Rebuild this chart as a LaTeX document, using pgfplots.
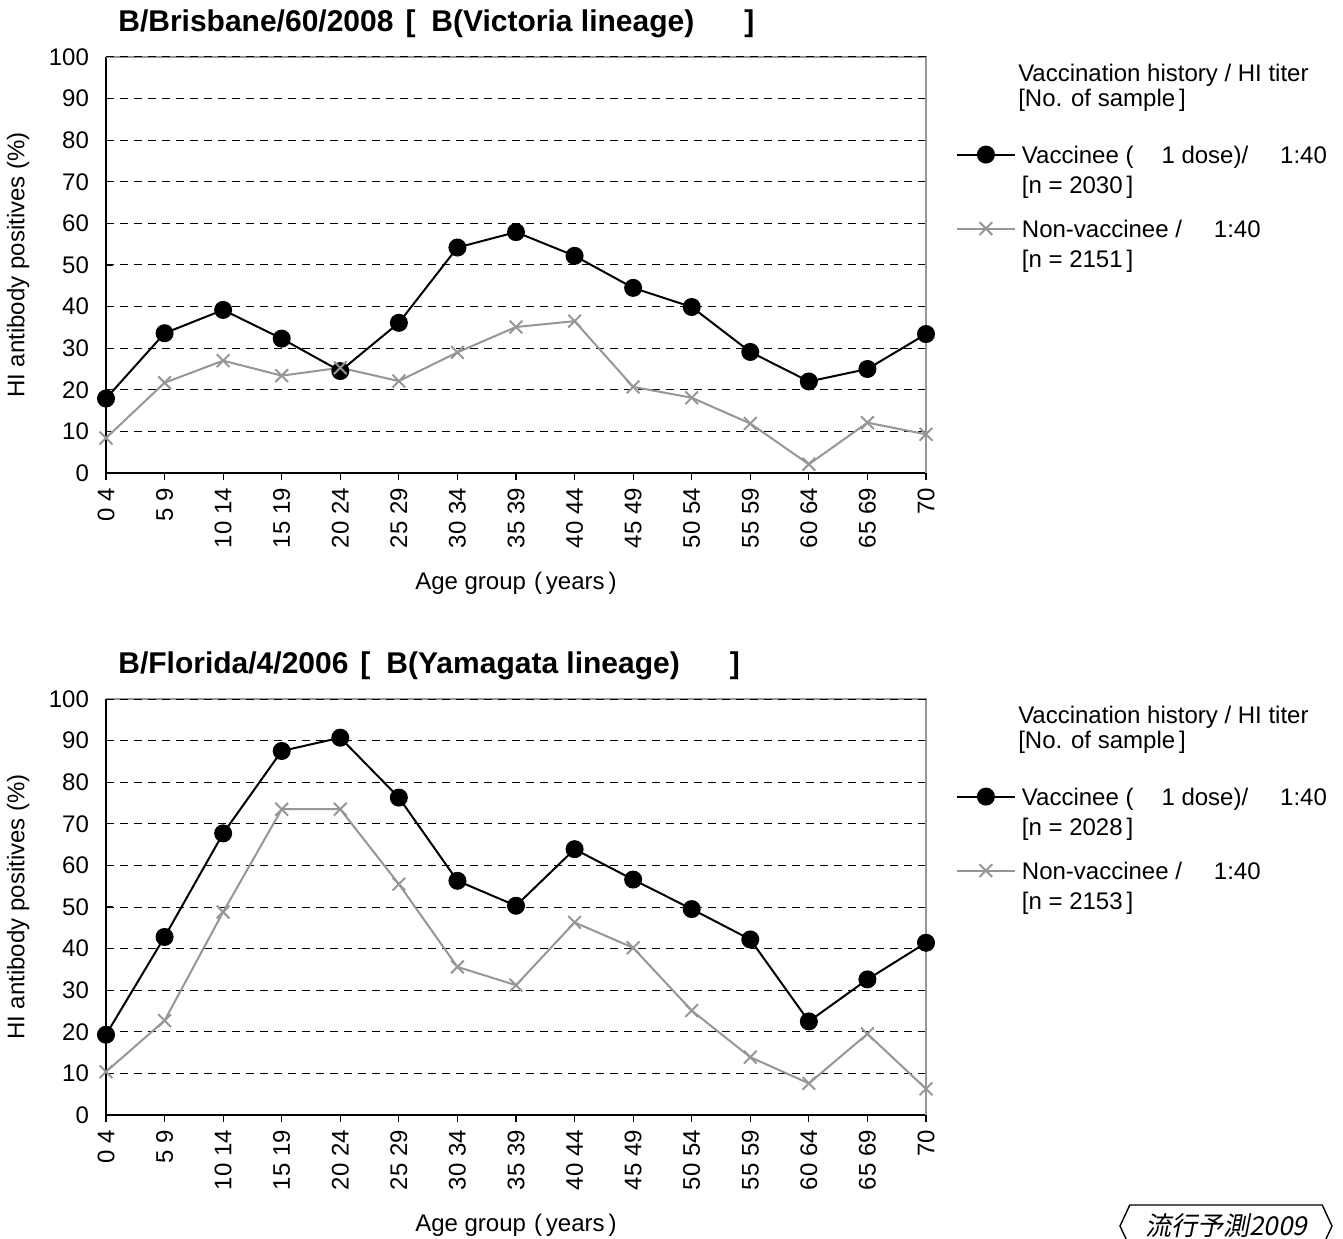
\documentclass[border=0pt]{standalone}
\usepackage{fontspec}
\setmainfont{Liberation Sans}
\newfontfamily\cjkit[FakeSlant=0.2]{Noto Sans CJK JP}
\usepackage{pgfplots}
\pgfplotsset{compat=1.18}
\usetikzlibrary{shapes.symbols}

\definecolor{nvgray}{RGB}{150,150,150}

\tikzset{
  header/.style={anchor=west, inner sep=0pt, font=\fontsize{12}{14}\selectfont},
  rowA/.style={text height=11.5pt, text depth=2.9pt},
  rowB/.style={text height=12.1pt, text depth=10.5pt},
  rowC/.style={text height=12.1pt, text depth=2.9pt},
  frame/.style={nvgray, line width=0.8pt},
}

\pgfplotsset{
  agechart/.style={
    width=410pt, height=208pt, scale only axis, clip=false,
    xmin=0, xmax=14, ymin=0, ymax=100,
    xtick={0,...,14},
    xticklabels={0 4,5 9,10 14,15 19,20 24,25 29,30 34,35 39,40 44,45 49,50 54,55 59,60 64,65 69,70},
    ytick={0,10,...,100},
    axis x line*=bottom, axis y line*=left,
    axis line style={-, black, line width=0.8pt},
    xtick align=outside, ytick align=inside, major tick length=3.5pt,
    tick style={black, line width=0.6pt},
    ymajorgrids,
    major grid style={black, line width=0.5pt, dash pattern=on 4pt off 3pt},
    /pgf/number format/assume math mode=true,
    tick label style={font=\fontsize{12}{14}\selectfont},
    x tick label style={rotate=90, anchor=east},
    xticklabel shift=0.5pt,
    y tick label style={xshift=-5pt},
    ylabel={HI antibody positives (\%)},
    xlabel={Age group\hspace{4pt}(\hspace{2pt}years\hspace{2pt})},
    every axis y label/.style={at={(axis description cs:-0.107,0.5)}, rotate=90, anchor=center,
      font=\fontsize{12}{14}\selectfont},
    every axis x label/.style={at={(axis description cs:0.5,-0.264)}, anchor=center,
      font=\fontsize{12}{14}\selectfont},
    every axis title shift=0pt,
    title style={at={(axis description cs:0.0146,1.079)}, anchor=west, inner sep=0pt,
      font=\bfseries\fontsize{15}{18}\selectfont},
    legend style={at={(axis description cs:1.036,0.801)}, anchor=north west,
      draw=none, fill=none, inner sep=0pt, row sep=0pt,
      font=\fontsize{12}{14}\selectfont,
      nodes={inner ysep=0pt, inner xsep=3pt}},
    legend cell align=left,
    legend image code/.code={\draw[##1, mark repeat=2, mark phase=2] plot coordinates {(0pt,0pt) (14.5pt,0pt) (29pt,0pt)};},
  },
  vacc/.style={black, line width=1pt, mark=*, mark size=4pt, mark options={solid, fill=black}},
  nonvacc/.style={nvgray, line width=1pt, mark=x, mark size=4.5pt, mark options={solid}},
}

\begin{document}
\begin{tikzpicture}
\useasboundingbox (0,0) rectangle (671.5pt,619pt);

% top panel: B/Brisbane
\begin{axis}[agechart, at={(53pt,382.5pt)}, anchor=south west,
  title={B/Brisbane/60/2008\hspace{6pt}[\hspace{8pt}B(Victoria lineage)\hspace{25pt}]}]
\addplot[vacc] coordinates {(0,17.9) (1,33.6) (2,39.2) (3,32.3) (4,24.5) (5,36.1) (6,54.2) (7,57.9) (8,52.2) (9,44.5) (10,39.9) (11,29.1) (12,22.0) (13,25.0) (14,33.4)};
\addlegendentry[rowA]{Vaccinee (\hspace{14pt}1 dose)/\hspace{16pt}1:40}
\addlegendimage{empty legend}
\addlegendentry[rowB]{[n = 2030\,]}
\addplot[nonvacc] coordinates {(0,8.4) (1,21.7) (2,27.0) (3,23.4) (4,25.3) (5,22.1) (6,29.0) (7,35.1) (8,36.5) (9,20.7) (10,18.1) (11,11.9) (12,2.1) (13,12.1) (14,9.3)};
\addlegendentry[rowA]{Non-vaccinee /\hspace{16pt}1:40}
\addlegendimage{empty legend}
\addlegendentry[rowC]{[n = 2151\,]}
\draw[frame] (rel axis cs:0,1) -- (rel axis cs:1,1) -- (rel axis cs:1,0);
\draw[black, line width=0.5pt, dash pattern=on 4pt off 3pt] (rel axis cs:0,1) -- (rel axis cs:1,1);
\node[header] at (axis description cs:1.112,0.9567) {Vaccination history / HI titer};
\node[header] at (axis description cs:1.112,0.8966) {[No. of sample\,]};
\end{axis}

% bottom panel: B/Florida
\begin{axis}[agechart, at={(53pt,61.5pt)}, anchor=south west,
  title={B/Florida/4/2006\hspace{6pt}[\hspace{8pt}B(Yamagata lineage)\hspace{25pt}]}]
\addplot[vacc] coordinates {(0,19.3) (1,42.8) (2,67.7) (3,87.5) (4,90.7) (5,76.3) (6,56.3) (7,50.3) (8,63.9) (9,56.6) (10,49.5) (11,42.2) (12,22.5) (13,32.6) (14,41.4)};
\addlegendentry[rowA]{Vaccinee (\hspace{14pt}1 dose)/\hspace{16pt}1:40}
\addlegendimage{empty legend}
\addlegendentry[rowB]{[n = 2028\,]}
\addplot[nonvacc] coordinates {(0,10.4) (1,22.7) (2,48.8) (3,73.5) (4,73.5) (5,55.5) (6,35.6) (7,31.2) (8,46.3) (9,40.2) (10,25.1) (11,13.9) (12,7.6) (13,19.5) (14,6.3)};
\addlegendentry[rowA]{Non-vaccinee /\hspace{16pt}1:40}
\addlegendimage{empty legend}
\addlegendentry[rowC]{[n = 2153\,]}
\draw[frame] (rel axis cs:0,1) -- (rel axis cs:1,1) -- (rel axis cs:1,0);
\draw[black, line width=0.5pt, dash pattern=on 4pt off 3pt] (rel axis cs:0,1) -- (rel axis cs:1,1);
\node[header] at (axis description cs:1.112,0.9567) {Vaccination history / HI titer};
\node[header] at (axis description cs:1.112,0.8966) {[No. of sample\,]};
\end{axis}

\node[signal, signal to=west and east, signal pointer angle=130, draw, line width=0.7pt,
  minimum width=106pt, minimum height=21pt, inner sep=1pt,
  font=\cjkit\fontsize{13}{15}\selectfont] at (613pt,6pt) {流行予測2009};
\end{tikzpicture}
\end{document}
